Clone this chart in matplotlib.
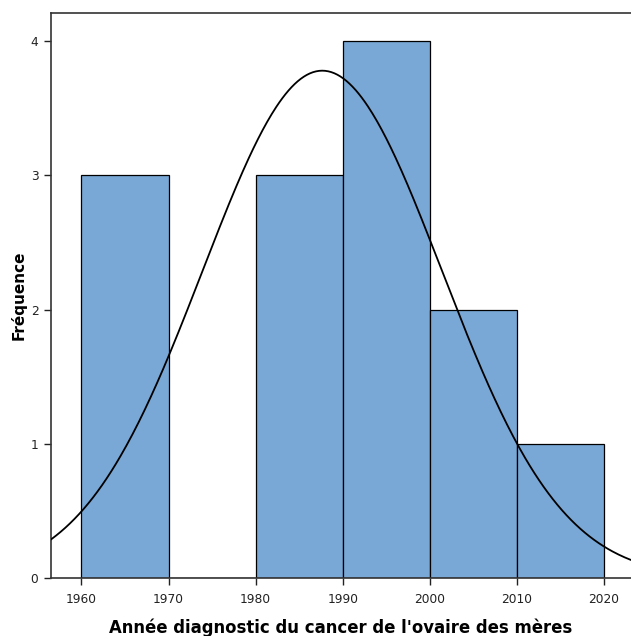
import matplotlib
matplotlib.use('Agg')
import matplotlib.pyplot as plt
import numpy as np

plt.rcParams['font.family'] = ['DejaVu Sans']

# histogram bins (years) and counts
bin_edges = [1960, 1970, 1980, 1990, 2000, 2010, 2020]
counts = [3, 0, 3, 4, 2, 1]
# normal curve parameters read from the overlay
mean_year = 1987.65
sd_year = 13.72
n_total = 13

fig = plt.figure(figsize=(6.31, 6.36), dpi=100)
ax = fig.add_axes([0.0808, 0.0912, 0.9192, 0.8884])

lefts = bin_edges[:-1]
widths = np.diff(bin_edges)
ax.bar(lefts, counts, width=widths, align='edge', color='#79a7d6',
       edgecolor='black', linewidth=0.9, zorder=2)

x = np.linspace(1955, 2025, 400)
bw = widths[0]
y = n_total * bw / (sd_year * np.sqrt(2 * np.pi)) * np.exp(-(x - mean_year) ** 2 / (2 * sd_year ** 2))
ax.plot(x, y, color='black', linewidth=1.3, zorder=3)

ax.set_xlim(1956.5, 2023.1)
ax.set_ylim(0, 4.21)
ax.set_xticks(bin_edges)
ax.set_yticks([0, 1, 2, 3, 4])
ax.tick_params(direction='out', length=5, width=1, labelsize=8.8, colors='#222222', pad=4)
ax.tick_params(axis='x', pad=6)
for s in ['left', 'bottom', 'top']:
    ax.spines[s].set_linewidth(1.2)
    ax.spines[s].set_color('#333333')
ax.spines['right'].set_visible(False)

ax.set_xlabel("Année diagnostic du cancer de l'ovaire des mères", fontsize=11.9,
              fontweight='bold', labelpad=9)
ax.set_ylabel('Fréquence', fontsize=11, fontweight='bold')
ax.yaxis.set_label_coords(-0.042, 0.5)

fig.savefig('out.png', dpi=100)
